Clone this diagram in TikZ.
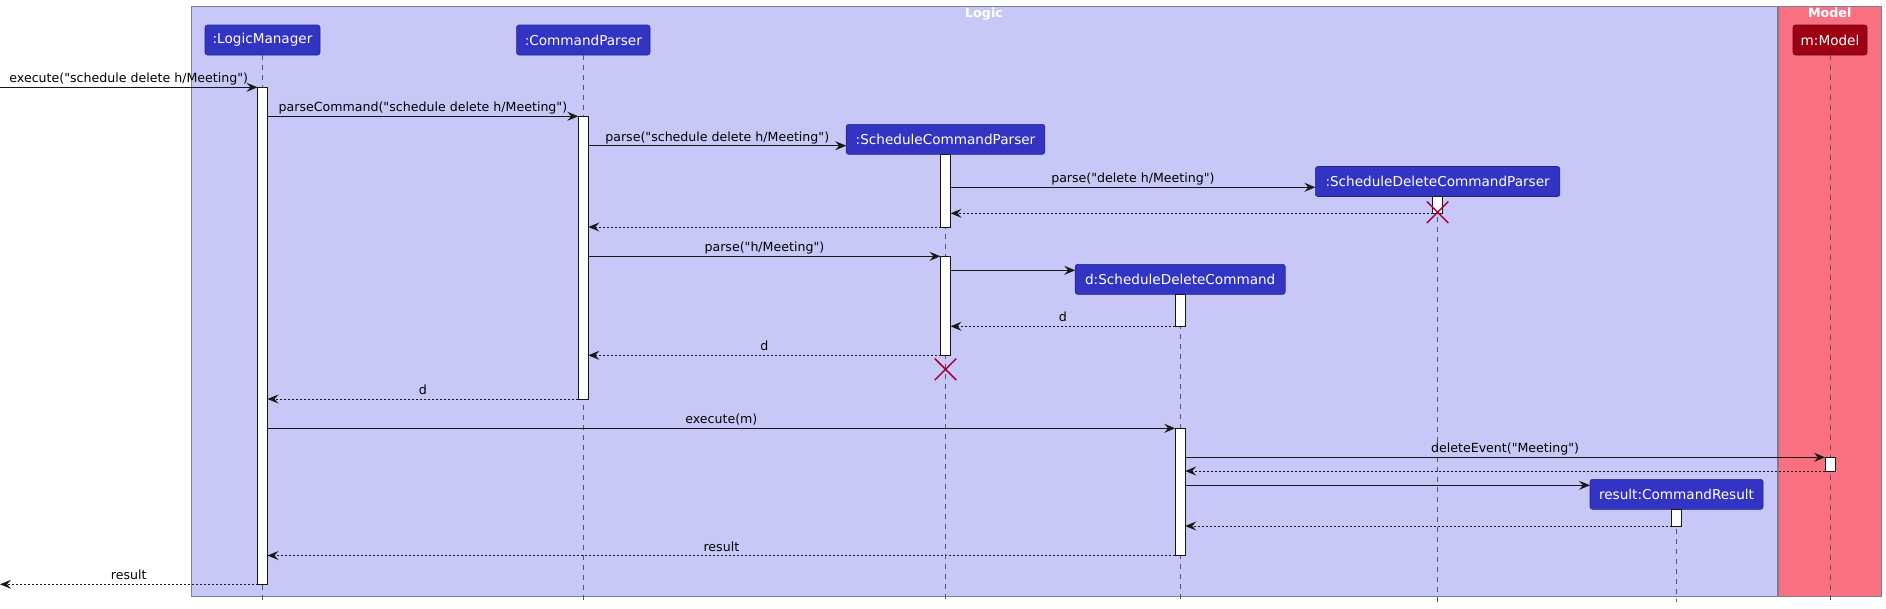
\documentclass[tikz,border=0pt]{standalone}
\usepackage{fontspec}
\setmainfont[Ligatures=TeXOff]{DejaVu Sans}
\usetikzlibrary{arrows.meta,shapes.misc}
\definecolor{logicbg}{HTML}{C8C8F8}
\definecolor{modelbg}{HTML}{F97181}
\definecolor{partblue}{HTML}{3333C4}
\definecolor{partred}{HTML}{9D0012}
\definecolor{xred}{HTML}{A80036}
\definecolor{boxborder}{HTML}{7C7C94}
\definecolor{ink}{HTML}{181818}
\definecolor{lifegray}{HTML}{555566}
\newcommand\msgfont{\fontsize{12.6}{15}\selectfont}
\newcommand\partfont{\fontsize{13.6}{16}\selectfont}
\newcommand\grpfont{\fontsize{12.7}{15}\selectfont\bfseries}
\tikzset{
  partb/.style={rectangle, rounded corners=2.5pt, draw=partblue!70!black, fill=partblue,
    text=white, font=\partfont, minimum height=30pt, inner xsep=0pt, inner ysep=0pt, outer sep=0pt, line width=0.6pt},
  partr/.style={partb, draw=partred!70!black, fill=partred},
  actbar/.style={rectangle, draw=ink, fill=white, minimum width=10pt, inner sep=0pt, outer sep=0pt, line width=1pt},
  lifeline/.style={draw=lifegray, dash pattern=on 5pt off 5pt, line width=0.8pt},
  msg/.style={draw=ink, line width=1pt, -{Stealth[length=11pt,width=9pt,inset=4pt]}},
  ret/.style={msg, dash pattern=on 2pt off 2pt},
  lbl/.style={anchor=base, yshift=4.5pt, font=\msgfont, text=black, inner sep=0pt},
  grptitle/.style={anchor=base, font=\grpfont, text=white, inner sep=0pt},
  xmark/.style={cross out, draw=xred, minimum size=20pt, inner sep=0pt, line width=1.5pt}
}
\begin{document}
\begin{tikzpicture}[x=1pt,y=-1pt]
\useasboundingbox (0,0) rectangle (1886,608);
% groups
\draw[draw=boxborder, fill=logicbg, line width=1pt] (191,6) rectangle (1777,596);
\draw[draw=boxborder, fill=modelbg, line width=1pt] (1778.5,6) rectangle (1881,596);
\node[grptitle] (tLogic) at (984,17.5) {Logic};
\node[grptitle] (tModel) at (1829.7,17.5) {Model};
% participants
\node[partb, minimum width=115pt] (LM) at (262.5,40) {:LogicManager};
\node[partb, minimum width=133.4pt] (CP) at (583.3,40) {:CommandParser};
\node[partr, minimum width=74pt] (MD) at (1830,40) {m:Model};
\node[partb, minimum width=198.6pt] (SCP) at (945.5,139.3) {:ScheduleCommandParser};
\node[partb, minimum width=244.5pt] (SDCP) at (1437.6,181.5) {:ScheduleDeleteCommandParser};
\node[partb, minimum width=210pt] (SDC) at (1180.2,279.3) {d:ScheduleDeleteCommand};
\node[partb, minimum width=173pt] (RES) at (1676.5,494.3) {result:CommandResult};
% lifelines
\foreach \p in {LM,CP,MD,SCP,SDCP,SDC,RES}{
  \draw[lifeline] (\p.south) -- (\p.south |- 0,602);
}
% activation bars
\node[actbar, minimum height=497pt] (aLM) at (262.5,335.8) {};
\node[actbar, minimum height=282.7pt] (aCP) at (583.3,257.65) {};
\node[actbar, minimum height=72.7pt] (aSCPa) at (945.5,190.65) {};
\node[actbar, minimum height=99pt] (aSCPb) at (945.5,305.8) {};
\node[actbar, minimum height=16.6pt] (aSDCP) at (1437.6,205) {};
\node[actbar, minimum height=32pt] (aSDCa) at (1180.2,310.3) {};
\node[actbar, minimum height=127.2pt] (aSDCb) at (1180.2,491.9) {};
\node[actbar, minimum height=13.7pt] (aMD) at (1830,464.15) {};
\node[actbar, minimum height=16.7pt] (aRES) at (1676.5,517.65) {};
% messages
\coordinate (inL) at (0,87.3);
\coordinate (outL) at (0,584.3);
\draw[msg] (inL) -- (aLM.north west) node[lbl, midway] {execute("schedule delete h/Meeting")};
\draw[msg] (aLM.east |- aCP.north) -- (aCP.north west) node[lbl, midway] {parseCommand("schedule delete h/Meeting")};
\draw[msg] (aCP.east |- 0,145.7) -- (SCP.west |- 0,145.7) node[lbl, midway] {parse("schedule delete h/Meeting")};
\draw[msg] (aSCPa.east |- 0,187.3) -- (SDCP.west |- 0,187.3) node[lbl, midway] {parse("delete h/Meeting")};
\draw[ret] (aSDCP.south west) -- (aSCPa.east |- aSDCP.south);
\draw[ret] (aSCPa.south west) -- (aCP.east |- aSCPa.south);
\draw[msg] (aCP.east |- aSCPb.north) -- (aSCPb.north west) node[lbl, midway] {parse("h/Meeting")};
\draw[msg] (aSCPb.east |- 0,270.3) -- (SDC.west |- 0,270.3);
\draw[ret] (aSDCa.south west) -- (aSCPb.east |- aSDCa.south) node[lbl, midway] {d};
\draw[ret] (aSCPb.south west) -- (aCP.east |- aSCPb.south) node[lbl, midway] {d};
\draw[ret] (aCP.south west) -- (aLM.east |- aCP.south) node[lbl, midway] {d};
\draw[msg] (aLM.east |- aSDCb.north) -- (aSDCb.north west) node[lbl, midway] {execute(m)};
\draw[msg] (aSDCb.east |- aMD.north) -- (aMD.north west) node[lbl, midway] {deleteEvent("Meeting")};
\draw[ret] (aMD.south west) -- (aSDCb.east |- aMD.south);
\draw[msg] (aSDCb.east |- 0,485.3) -- (RES.west |- 0,485.3);
\draw[ret] (aRES.south west) -- (aSDCb.east |- aRES.south);
\draw[ret] (aSDCb.south west) -- (aLM.east |- aSDCb.south) node[lbl, midway] {result};
\draw[ret] (aLM.south west) -- (outL) node[lbl, midway] {result};
% destruction marks
\node[xmark] (xSCP) at (945.5,369.3) {};
\node[xmark] (xSDCP) at (1437.6,212.3) {};
\end{tikzpicture}
\end{document}
